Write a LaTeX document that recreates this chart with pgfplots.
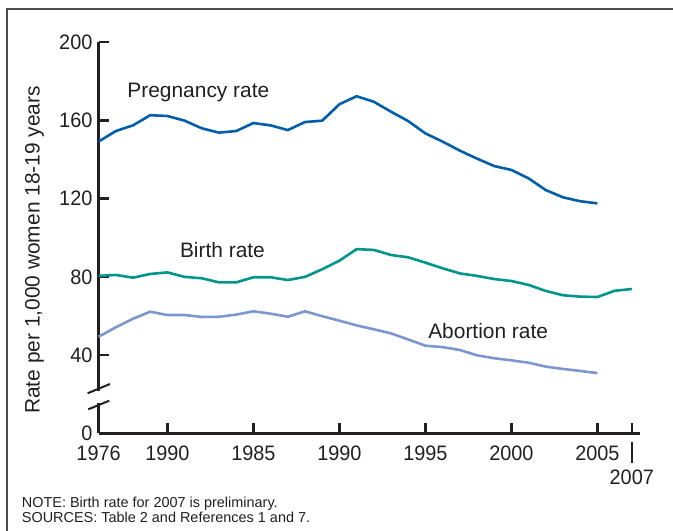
\documentclass[border=0pt]{standalone}
\usepackage{fontspec}
\setmainfont{Liberation Sans}
\usepackage{pgfplots}
\pgfplotsset{compat=1.18}

\definecolor{preg}{RGB}{0,94,170}
\definecolor{birth}{RGB}{0,150,140}
\definecolor{abort}{RGB}{124,150,208}
\definecolor{txt}{RGB}{35,31,32}

\begin{document}
\begin{tikzpicture}
\path[use as bounding box] (-98.6bp,-97.7bp) rectangle (574.4bp,433.3bp);
\begin{axis}[
    scale only axis,
    width=541.8bp, height=391bp,
    xmin=1976, xmax=2007.5,
    ymin=0, ymax=200,
    axis lines=left,
    axis line style={-, line width=2.4bp, color=txt},
    clip=false,
    tick align=inside,
    major tick length=10.5bp,
    tick style={line width=2.4bp, color=txt},
    xtick={1976,1980,1985,1990,1995,2000,2005,2007},
    xticklabels={1976,1990,1985,1990,1995,2000,2005,{}},
    ytick={0,40,80,120,160,200},
    /pgf/number format/assume math mode=true,
    tick label style={font=\fontsize{21}{21}\selectfont, text=txt, xscale=0.95},
    yticklabel style={xshift=-3bp},
    xticklabel style={yshift=-9bp},
]
% pregnancy rate
\addplot[preg, line width=2.6bp] coordinates {
    (1976,149.2) (1977,154.6) (1978,157.5) (1979,162.7) (1980,162.3)
    (1981,159.9) (1982,156.0) (1983,153.8) (1984,154.6) (1985,158.7)
    (1986,157.5) (1987,155.1) (1988,159.2) (1989,159.9) (1990,168.3)
    (1991,172.4) (1992,169.6) (1993,164.5) (1994,159.7) (1995,153.4)
    (1996,149.2) (1997,144.6) (1998,140.5) (1999,136.7) (2000,134.7)
    (2001,130.4) (2002,124.4) (2003,120.7) (2004,118.7) (2005,117.6)
};
% birth rate
\addplot[birth, line width=2.6bp] coordinates {
    (1976,80.5) (1977,81.0) (1978,79.6) (1979,81.5) (1980,82.3)
    (1981,80.0) (1982,79.3) (1983,77.2) (1984,77.2) (1985,79.8)
    (1986,79.8) (1987,78.4) (1988,80.0) (1989,83.9) (1990,88.3)
    (1991,94.2) (1992,93.8) (1993,91.2) (1994,90.0) (1995,87.3)
    (1996,84.4) (1997,81.8) (1998,80.5) (1999,78.9) (2000,77.9)
    (2001,75.9) (2002,72.8) (2003,70.6) (2004,69.9) (2005,69.7)
    (2006,72.9) (2007,73.8)
};
% abortion rate
\addplot[abort, line width=2.6bp] coordinates {
    (1976,49.4) (1977,54.2) (1978,58.6) (1979,62.2) (1980,60.5)
    (1981,60.5) (1982,59.5) (1983,59.6) (1984,60.7) (1985,62.4)
    (1986,61.2) (1987,59.6) (1988,62.4) (1989,59.9) (1990,57.6)
    (1991,55.2) (1992,53.2) (1993,51.1) (1994,48.0) (1995,44.8)
    (1996,44.1) (1997,42.6) (1998,39.9) (1999,38.4) (2000,37.3)
    (2001,36.1) (2002,34.1) (2003,32.9) (2004,31.9) (2005,30.8)
};
\node[anchor=base, font=\fontsize{21}{21}\selectfont, text=txt] at (axis cs:1981.8,172.0) {Pregnancy rate};
\node[anchor=base, font=\fontsize{21}{21}\selectfont, text=txt] at (axis cs:1983.2,89.7) {Birth rate};
\node[anchor=base, font=\fontsize{21}{21}\selectfont, text=txt] at (axis cs:1998.65,48.6) {Abortion rate};
\end{axis}
% axis break
\fill[white] (-3bp,30.5bp) rectangle (3bp,42.5bp);
\draw[txt, line width=2bp] (-11bp,40bp) -- (11.4bp,49.3bp);
\draw[txt, line width=2bp] (-10.3bp,24bp) -- (10.7bp,32.6bp);
% 2007 marker below the axis
\draw[txt, line width=2.4bp] (533.2bp,-8.4bp) -- (533.2bp,-29.7bp);
\node[font=\fontsize{21}{21}\selectfont, text=txt, xscale=0.95] at (533.2bp,-43.7bp) {2007};
% y label
\node[rotate=90, font=\fontsize{21}{21}\selectfont, text=txt] at (-64.1bp,183.3bp) {Rate per 1,000 women 18-19 years};
% notes
\node[anchor=base west, inner sep=0pt, font=\fontsize{14.5}{14.5}\selectfont, text=txt] at (-76.9bp,-74.4bp) {NOTE: Birth rate for 2007 is preliminary.};
\node[anchor=base west, inner sep=0pt, font=\fontsize{14.5}{14.5}\selectfont, text=txt] at (-76.9bp,-89.4bp) {SOURCES: Table 2 and References 1 and 7.};
% frame
\draw[line width=1.3bp, color=black!70] (-91.6bp,-97.7bp) -- (-91.6bp,424.3bp) -- (574.4bp,424.3bp);
\end{tikzpicture}
\end{document}
